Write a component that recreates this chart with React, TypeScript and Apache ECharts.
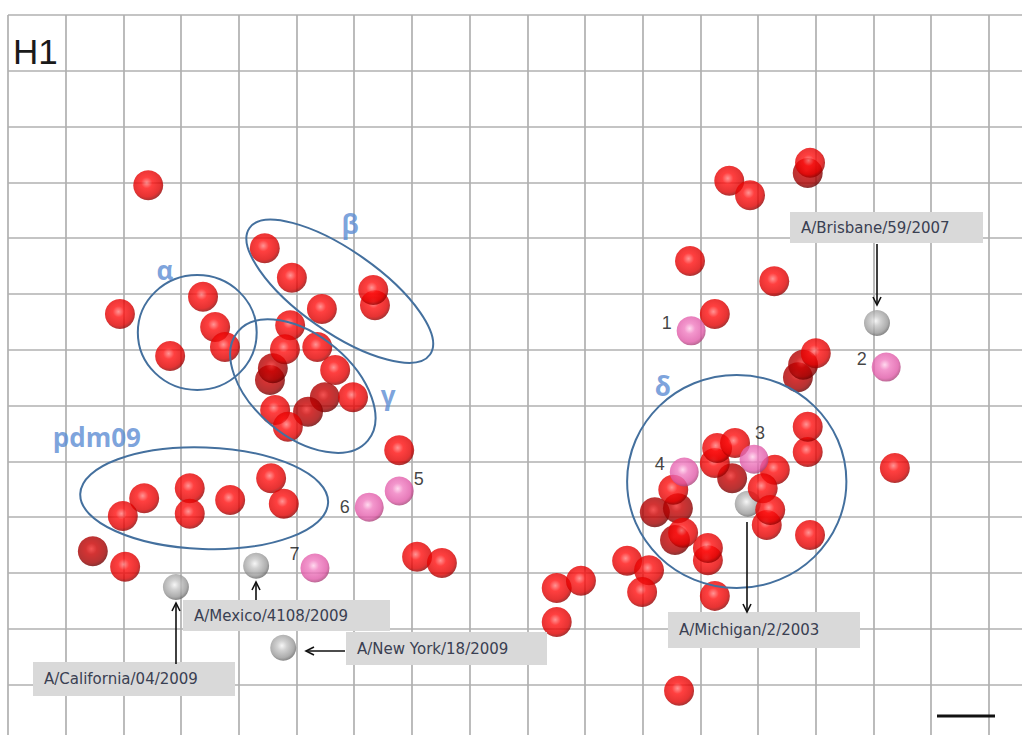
import React, { useEffect, useRef } from "react";
import * as echarts from "echarts";

// Antigenic map coordinates (grid units; 1 unit = 1 grid cell, y grows downward)
const redPoints: [number, number][] = [
  [2.43, 3.05], [1.94, 5.36], [3.38, 5.05], [3.59, 5.59], [3.76, 5.95], [2.81, 6.11],
  [4.45, 4.18], [4.92, 4.71], [5.44, 5.27], [6.36, 5.2], [6.33, 4.93],
  [4.89, 5.56], [4.8, 5.99], [5.36, 5.95], [5.67, 6.36], [5.98, 6.85], [4.63, 7.08], [4.85, 7.38], [6.78, 7.8],
  [2.36, 8.66], [3.15, 8.48], [3.15, 8.94], [3.85, 8.69], [4.56, 8.3], [4.78, 8.76], [1.99, 8.98], [2.03, 9.89],
  [7.09, 9.71], [7.52, 9.82], [9.51, 10.27], [9.93, 10.14], [9.51, 10.88], [10.73, 9.78], [11.11, 9.95],
  [10.99, 10.34], [11.63, 12.11], [12.25, 10.41],
  [13.9, 2.65], [12.5, 2.97], [12.86, 3.23], [11.82, 4.41], [13.28, 4.77], [12.25, 5.36], [14.0, 6.06],
  [13.86, 7.83], [13.86, 7.38], [15.37, 8.12],
  [12.25, 8.03], [12.29, 7.76], [12.6, 7.67], [13.29, 8.15], [13.08, 8.48], [13.15, 9.14], [13.21, 8.87],
  [13.9, 9.32], [11.53, 8.51], [11.7, 9.28], [12.13, 9.77], [12.13, 9.55],
];
const darkRedPoints: [number, number][] = [
  [4.54, 6.54], [4.59, 6.33], [5.49, 6.85], [5.2, 7.11], [1.47, 9.61], [13.86, 2.83],
  [13.69, 6.49], [13.78, 6.27], [12.55, 8.3], [11.21, 8.91], [11.61, 8.84], [11.56, 9.41],
];
const pinkPoints: [number, number][] = [
  [11.84, 5.66], [15.22, 6.31], [12.93, 7.96], [11.72, 8.19], [6.78, 8.53], [6.26, 8.82], [5.32, 9.91],
];
const pinkLabels = ["1", "2", "3", "4", "5", "6", "7"];
const grayPoints: [number, number][] = [
  [2.91, 10.25], [4.3, 9.87], [4.77, 11.34], [15.06, 5.52], [12.82, 8.76],
];
const grayNames = ["A/California/04/2009", "A/Mexico/4108/2009", "A/New York/18/2009", "A/Brisbane/59/2007", "A/Michigan/2/2003"];
// cluster outlines: centre x, centre y, radius x, radius y, tilt (deg)
const clusterEllipses: number[][] = [
  [3.28, 5.69, 1.03, 1.03, 0],
  [5.75, 4.95, 1.91, 0.73, -35],
  [5.11, 6.65, 1.47, 0.9, -40],
  [3.4, 8.66, 2.15, 0.91, -2],
  [12.63, 8.36, 1.9, 1.91, 0],
];
const clusterNames = ["α", "β", "γ", "pdm09", "δ"];
const clusterLabelAt: [number, number][] = [
  [2.72, 4.57], [5.93, 3.75], [6.59, 6.81], [1.54, 7.56], [11.35, 6.65],
];

const sphere = (inner: string, mid: string, outer: string, edge: string) => ({
  type: "radial",
  x: 0.45,
  y: 0.42,
  r: 0.62,
  colorStops: [
    { offset: 0, color: inner },
    { offset: 0.3, color: mid },
    { offset: 0.75, color: outer },
    { offset: 1, color: edge },
  ],
});

const pinkLabelCfg: any[] = [
  { position: "left", offset: [0, -8] },
  { position: "left", offset: [0, -8] },
  { position: "top", offset: [6, 2] },
  { position: "left", offset: [0, -8] },
  { position: "right", offset: [-5, -12] },
  { position: "left", offset: [0, 0] },
  { position: "left", offset: [4, -14] },
];

function arrow(x1: number, y1: number, x2: number, y2: number) {
  const ang = Math.atan2(y2 - y1, x2 - x1);
  const L = 8, W = 4;
  const bx = x2 - L * Math.cos(ang), by = y2 - L * Math.sin(ang);
  const px = -Math.sin(ang) * W, py = Math.cos(ang) * W;
  return [
    { type: "line", shape: { x1, y1, x2, y2 }, style: { stroke: "#111", lineWidth: 1.6 }, z: 20 },
    {
      type: "polyline",
      shape: { points: [[bx + px, by + py], [x2, y2], [bx - px, by - py]] },
      style: { stroke: "#111", lineWidth: 1.6, fill: "none" },
      z: 20,
    },
  ];
}

function box(x: number, y: number, w: number, h: number, text: string) {
  return [
    { type: "rect", shape: { x, y, width: w, height: h }, style: { fill: "#d9d9d9" }, z: 15 },
    {
      type: "text",
      x: x + 11,
      y: y + h / 2,
      style: { text, fill: "#3a4052", font: "15px 'DejaVu Sans'", verticalAlign: "middle", align: "left" },
      z: 16,
    },
  ];
}

export default function App() {
  const ref = useRef<HTMLDivElement>(null);
  useEffect(() => {
    document.body.style.margin = "0";
    const chart = echarts.init(ref.current!, undefined, { renderer: "svg" });
    const gridLine = { show: true, showMinLine: true, showMaxLine: false, lineStyle: { color: "#b0b0b0", width: 1.7 } };
    chart.setOption({
      animation: false,
      backgroundColor: "#ffffff",
      grid: { left: 8, top: 15, right: 0, bottom: 0 },
      xAxis: {
        type: "value", min: 0, max: 1014 / 57.7, interval: 1,
        axisLine: { show: false }, axisTick: { show: false }, axisLabel: { show: false },
        splitLine: gridLine,
      },
      yAxis: {
        type: "value", inverse: true, min: 0, max: 720 / 55.8, interval: 1,
        axisLine: { show: false }, axisTick: { show: false }, axisLabel: { show: false },
        splitLine: gridLine,
      },
      series: [
        {
          type: "scatter", name: "dark", symbolSize: 30, z: 3,
          data: darkRedPoints,
          itemStyle: { color: sphere("#f02828", "#c80000", "#a40000", "#5a0000") },
        },
        {
          type: "scatter", name: "reference", symbolSize: 26, z: 4,
          data: grayPoints.map((p, i) => ({ value: p, name: grayNames[i] })),
          itemStyle: { color: sphere("#f4f4f4", "#c6c6c6", "#989898", "#585858") },
        },
        {
          type: "scatter", name: "red", symbolSize: 30, z: 5,
          data: redPoints,
          itemStyle: { color: sphere("#ff7a7a", "#ff1010", "#e00000", "#7a0000") },
        },
        {
          type: "scatter", name: "pink", symbolSize: 29, z: 6,
          data: pinkPoints.map((p, i) => ({
            value: p,
            name: pinkLabels[i],
            label: { show: true, formatter: pinkLabels[i], ...pinkLabelCfg[i] },
          })),
          label: { color: "#111111", fontSize: 18, fontFamily: "Liberation Sans" },
          itemStyle: { color: sphere("#ffd0ea", "#f07cc0", "#e05aa8", "#9a3c6c") },
        },
        {
          type: "custom", name: "clusters", z: 8,
          data: clusterEllipses,
          renderItem: (_p: any, api: any) => {
            const c = api.coord([api.value(0), api.value(1)]);
            const s = api.size([api.value(2), api.value(3)]);
            return {
              type: "ellipse",
              x: c[0], y: c[1],
              rotation: (api.value(4) * Math.PI) / 180,
              shape: { cx: 0, cy: 0, rx: Math.abs(s[0]), ry: Math.abs(s[1]) },
              style: { fill: "none", stroke: "#44709e", lineWidth: 2 },
            };
          },
        },
        {
          type: "scatter", name: "clusterNames", symbolSize: 0, z: 9,
          data: clusterLabelAt.map((p, i) => ({ value: p, name: clusterNames[i] })),
          label: {
            show: true, position: "inside", formatter: (p: any) => p.name,
            color: "#5b8bd3", fontSize: 26, fontWeight: "bold", fontFamily: "Open Sans",
          },
        },
      ],
      graphic: [
        { type: "text", x: 13, y: 51, style: { text: "H1", fill: "#1a1a1a", font: "35px 'Liberation Sans'", verticalAlign: "middle" }, z: 20 },
        ...box(790, 212, 193, 31, "A/Brisbane/59/2007"),
        ...box(183, 600, 207, 31, "A/Mexico/4108/2009"),
        ...box(33, 662, 202, 34, "A/California/04/2009"),
        ...box(346, 632, 201, 33, "A/New York/18/2009"),
        ...box(668, 612, 192, 36, "A/Michigan/2/2003"),
        ...arrow(877, 244, 877, 305),
        ...arrow(256, 600, 256, 582),
        ...arrow(176, 664, 176, 603),
        ...arrow(345, 651, 306, 651),
        ...arrow(747, 522, 747, 612),
        { type: "line", shape: { x1: 937, y1: 716, x2: 995, y2: 716 }, style: { stroke: "#111", lineWidth: 3 }, z: 20 },
      ],
    });
    return () => chart.dispose();
  }, []);
  return <div ref={ref} style={{ width: 1022, height: 735 }} />;
}
